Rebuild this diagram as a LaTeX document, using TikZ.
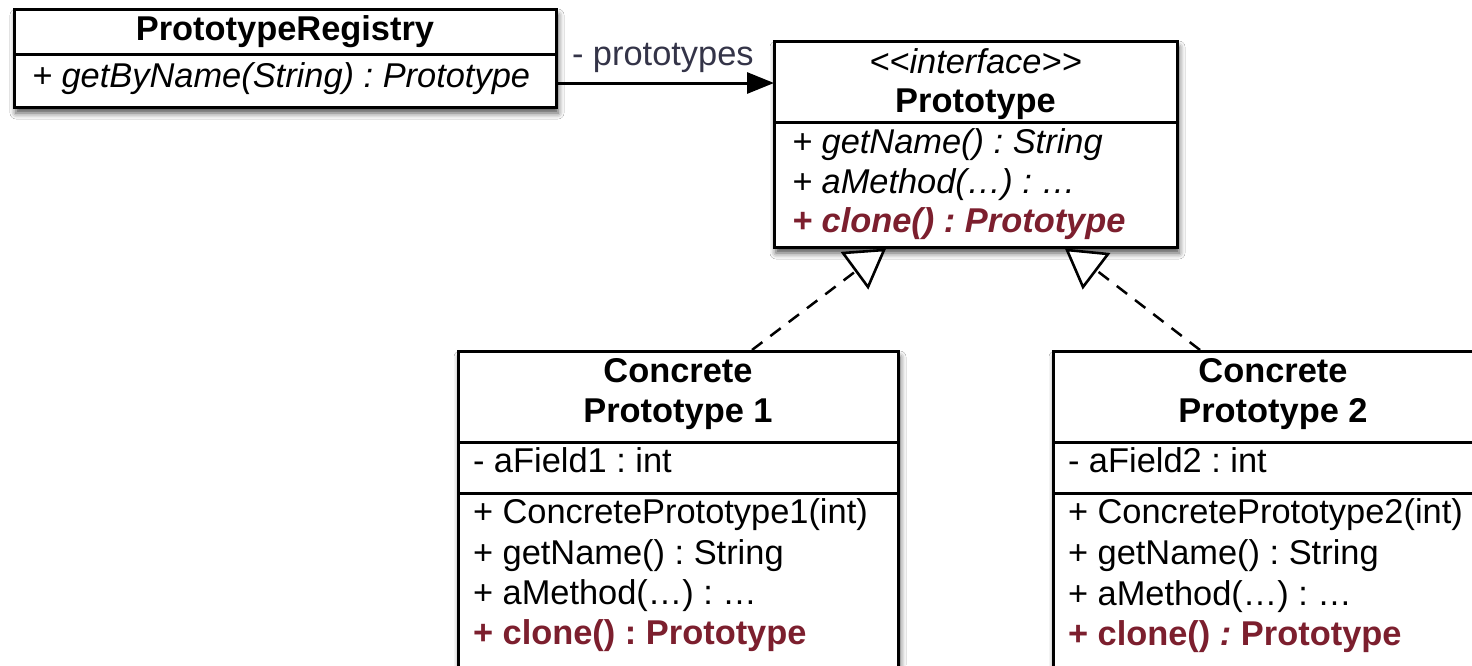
\documentclass[tikz,border=0pt]{standalone}
\usepackage{fontspec}
\setmainfont{Liberation Sans}
\usetikzlibrary{arrows.meta,shadows.blur}
\definecolor{methred}{RGB}{124,31,46}
\definecolor{rolegray}{RGB}{52,52,72}
\newcommand{\umlfont}{\fontsize{34.4}{40}\selectfont\frenchspacing}
\tikzset{
  umlbox/.style={draw, line width=3pt, fill=white, anchor=north west,
    inner sep=0pt, outer sep=0pt,
    blur shadow={shadow xshift=2pt, shadow yshift=-6pt,
      shadow blur radius=6pt, shadow opacity=70}},
  txt/.style={font=\umlfont, inner sep=0pt, outer sep=0pt},
  member/.style={txt, anchor=base west},
  memberit/.style={member, font=\umlfont\itshape},
  classname/.style={txt, anchor=base, font=\umlfont\bfseries},
  divider/.style={line width=3pt},
  realize/.style={line width=2.5pt, dash pattern=on 13pt off 10pt},
  hollowtip/.style={line width=2.6pt, fill=white, line join=miter},
}
\begin{document}
\begin{tikzpicture}[x=1pt,y=-1pt]
\clip (0,0) rectangle (1472,665);
\fill[white] (0,0) rectangle (1472,665);

% ---- PrototypeRegistry ----
\node[umlbox, minimum width=542pt, minimum height=98pt] (registry) at (14,9) {};
\draw[divider] (registry.west |- 0,54) -- (registry.east |- 0,54);
\node[classname] (regname) at (285,40) {PrototypeRegistry};
\node[memberit] (regop) at (32,87) {+ getByName(String) : Prototype};

% ---- Prototype interface ----
\node[umlbox, minimum width=403pt, minimum height=206pt] (iface) at (774,41) {};
\draw[divider] (iface.west |- 0,122) -- (iface.east |- 0,122);
\node[txt, anchor=base, font=\umlfont\itshape] (stereo) at (975.5,73) {<{}<interface>{}>};
\node[classname] (ifname) at (975.5,112) {Prototype};
\node[memberit] (ifop1) at (792,153) {+ getName() : String};
\node[memberit] (ifop2) at (792,193) {+ aMethod(…) : …};
\node[member, font=\umlfont\bfseries\itshape, text=methred] (ifop3) at (792,232) {+ clone() : Prototype};

% ---- Concrete Prototype 1 ----
\node[umlbox, minimum width=440pt, minimum height=360pt] (cp1) at (458,351) {};
\draw[divider] (cp1.west |- 0,442) -- (cp1.east |- 0,442);
\draw[divider] (cp1.west |- 0,493) -- (cp1.east |- 0,493);
\node[classname] (cp1name1) at (678,382) {Concrete};
\node[classname] (cp1name2) at (678,422) {Prototype 1};
\node[member] (cp1f) at (473,472) {- aField1 : int};
\node[member] (cp1op1) at (473,523) {+ ConcretePrototype1(int)};
\node[member] (cp1op2) at (473,564) {+ getName() : String};
\node[member] (cp1op3) at (473,604) {+ aMethod(…) : …};
\node[member, font=\umlfont\bfseries, text=methred] (cp1op4) at (473,644) {+ clone() : Prototype};

% ---- Concrete Prototype 2 ----
\node[umlbox, minimum width=440pt, minimum height=360pt] (cp2) at (1053,351) {};
\draw[divider] (cp2.west |- 0,442) -- (cp2.east |- 0,442);
\draw[divider] (cp2.west |- 0,493) -- (cp2.east |- 0,493);
\node[classname] (cp2name1) at (1273,382) {Concrete};
\node[classname] (cp2name2) at (1273,422) {Prototype 2};
\node[member] (cp2f) at (1068,472) {- aField2 : int};
\node[member] (cp2op1) at (1068,523) {+ ConcretePrototype2(int)};
\node[member] (cp2op2) at (1068,564) {+ getName() : String};
\node[member] (cp2op3) at (1068,605) {+ aMethod(…) : …};
\node[member, font=\umlfont\bfseries, text=methred] (cp2op4) at (1068,645) {+ clone() \textit{:} Prototype};

% ---- association: registry -> interface ----
\coordinate (assocy) at (0,83);
\draw[line width=3pt, -{Triangle[length=27pt,width=21pt]}]
  (registry.east |- assocy) -- (iface.west |- assocy);
\node[member, text=rolegray] (role) at (572,65) {- prototypes};

% ---- realization: Concrete Prototype 1 ----
\coordinate (r1) at (752,350);
\coordinate (t1a) at (843,253);
\coordinate (t1b) at (884,250);
\coordinate (t1c) at (868,287);
\coordinate (t1e) at (856,271);
\draw[realize] (r1) -- (t1e);
\draw[hollowtip] (t1a) -- (t1b) -- (t1c) -- cycle;

% ---- realization: Concrete Prototype 2 ----
\coordinate (r2) at (1200,350);
\coordinate (t2a) at (1067,250);
\coordinate (t2b) at (1108,254);
\coordinate (t2c) at (1083,287);
\coordinate (t2e) at (1096,270);
\draw[realize] (r2) -- (t2e);
\draw[hollowtip] (t2a) -- (t2b) -- (t2c) -- cycle;
\end{tikzpicture}
\end{document}
